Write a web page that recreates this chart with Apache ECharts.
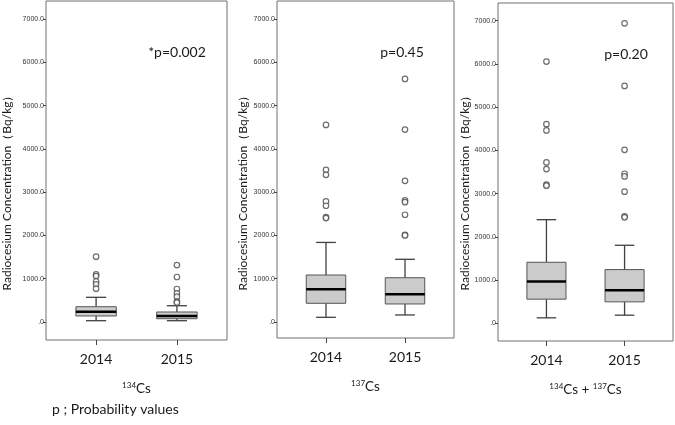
<!DOCTYPE html>
<html>
<head>
<meta charset="utf-8">
<script src="https://cdn.jsdelivr.net/npm/echarts@6/dist/echarts.min.js"></script>
<style>html,body{margin:0;padding:0;background:#fff}#c{width:675px;height:425px}</style>
</head>
<body>
<div id="c"></div>
<script>
// ---- data ----
const years = ['2014', '2015'];
const yTicks = [0, 1000, 2000, 3000, 4000, 5000, 6000, 7000];
// box = [lower whisker, Q1, median, Q3, upper whisker]
const cs134Box2014 = [30, 139, 238, 353, 570];
const cs134Box2015 = [30, 76, 139, 231, 376];
const cs134Out2014 = [1508, 1100, 1060, 935, 870, 770];
const cs134Out2015 = [1316, 1039, 762, 663, 584, 469, 446];
const cs137Box2014 = [108, 432, 755, 1085, 1838];
const cs137Box2015 = [162, 416, 640, 1023, 1448];
const cs137Out2014 = [4554, 3515, 3400, 2785, 2685, 2423, 2400];
const cs137Out2015 = [5615, 4446, 3262, 2808, 2769, 2477, 2015, 2000];
const sumBox2014 = [131, 562, 969, 1415, 2400];
const sumBox2015 = [192, 500, 769, 1246, 1808];
const sumOut2014 = [6054, 4608, 4462, 3723, 3569, 3208, 3185];
const sumOut2015 = [6938, 5492, 4015, 3462, 3400, 3046, 2477, 2454];
const pLabels = ['*p=0.002', 'p=0.45', 'p=0.20'];
const axisTitle = 'Radiocesium Concentration（Bq/kg）';
const subTitles = ['{s|134}{c|Cs}', '{s|137}{c|Cs}', '{s|134}{c|Cs + }{s|137}{c|Cs}'];
const footnote = 'p ; Probability values';

const FONT = 'Lato, "Open Sans", sans-serif';
const panels = [
  {box: [cs134Box2014, cs134Box2015], out: [cs134Out2014, cs134Out2015]},
  {box: [cs137Box2014, cs137Box2015], out: [cs137Out2014, cs137Out2015]},
  {box: [sumBox2014, sumBox2015], out: [sumOut2014, sumOut2015]}
];
const grids = [
  {left: 46, top: 1, width: 181, height: 339},
  {left: 277, top: 1, width: 177, height: 337},
  {left: 498, top: 3, width: 175, height: 338}
];
const yRanges = [[-416, 7416], [-370, 7416], [-405, 7409]];
const xRange = [-0.62, 1.62];
const catIdx = years.map((y, k) => k);

function renderBox(params, api) {
  const x = api.value(0);
  const lo = api.coord([x, api.value(1)]);
  const q1 = api.coord([x, api.value(2)]);
  const md = api.coord([x, api.value(3)]);
  const q3 = api.coord([x, api.value(4)]);
  const hi = api.coord([x, api.value(5)]);
  const unit = api.size([1, 0])[0];
  const bw = unit * 0.5, cw = bw / 2;
  const cx = lo[0];
  const ws = {stroke: '#404040', lineWidth: 1.3};
  return {type: 'group', children: [
    {type: 'line', shape: {x1: cx, y1: hi[1], x2: cx, y2: q3[1]}, style: ws},
    {type: 'line', shape: {x1: cx, y1: q1[1], x2: cx, y2: lo[1]}, style: ws},
    {type: 'line', shape: {x1: cx - cw / 2, y1: hi[1], x2: cx + cw / 2, y2: hi[1]}, style: ws},
    {type: 'line', shape: {x1: cx - cw / 2, y1: lo[1], x2: cx + cw / 2, y2: lo[1]}, style: ws},
    {type: 'rect', shape: {x: cx - bw / 2, y: q3[1], width: bw, height: q1[1] - q3[1]},
      style: {fill: '#cbcbcb', stroke: '#555', lineWidth: 1}},
    {type: 'line', shape: {x1: cx - bw / 2, y1: md[1], x2: cx + bw / 2, y2: md[1]},
      style: {stroke: '#000', lineWidth: 2.4}}
  ]};
}

const xAxes = [], yAxes = [], series = [], graphics = [];
panels.forEach((p, i) => {
  xAxes.push({
    type: 'value', gridIndex: i, min: xRange[0], max: xRange[1], position: 'bottom',
    splitLine: {show: false}, axisLine: {show: false, onZero: false},
    axisTick: {show: true, length: 5, customValues: catIdx, lineStyle: {color: '#444'}},
    axisLabel: {customValues: catIdx, formatter: v => years[Math.round(v)],
      fontSize: 14, color: '#1a1a1a', margin: 12, fontFamily: FONT},
    name: subTitles[i], nameLocation: 'middle', nameGap: 41,
    nameTextStyle: {
      color: '#1a1a1a', fontFamily: FONT,
      rich: {
        s: {fontSize: 8, lineHeight: 9, verticalAlign: 'top', fontFamily: FONT, color: '#1a1a1a'},
        c: {fontSize: 13.5, lineHeight: 15, verticalAlign: 'bottom', fontFamily: FONT, color: '#1a1a1a'}
      }
    }
  });
  yAxes.push({
    type: 'value', gridIndex: i, min: yRanges[i][0], max: yRanges[i][1], position: 'left',
    splitLine: {show: false}, axisLine: {show: false, onZero: false},
    axisTick: {show: true, length: 3, customValues: yTicks, lineStyle: {color: '#444'}},
    axisLabel: {customValues: yTicks, fontSize: 7, margin: 2, color: '#333',
      fontFamily: '"Liberation Sans Narrow", "Liberation Sans", sans-serif',
      formatter: v => v === 0 ? '.0' : v.toFixed(1)}
  });
  series.push({
    type: 'custom', xAxisIndex: i, yAxisIndex: i, renderItem: renderBox,
    encode: {x: 0, y: [1, 2, 3, 4, 5]},
    data: p.box.map((b, k) => [k].concat(b)), z: 2
  });
  const pts = [];
  p.out.forEach((arr, k) => arr.forEach(v => pts.push([k, v])));
  series.push({
    type: 'scatter', xAxisIndex: i, yAxisIndex: i, data: pts,
    symbol: 'circle', symbolSize: 5.5,
    itemStyle: {color: '#fff', borderColor: '#4a4a4a', borderWidth: 1.2}, z: 3
  });
});

const titleX = [7.5, 243.5, 465.5];
titleX.forEach((tx, i) => graphics.push({
  type: 'text', x: tx, y: 190, rotation: Math.PI / 2,
  style: {text: axisTitle, fontSize: 12, fontFamily: FONT, fill: '#1a1a1a', align: 'center', verticalAlign: 'middle'}
}));
const pPos = [[177, 52], [402, 52], [626, 54]];
pPos.forEach((pp, i) => graphics.push({
  type: 'text', x: pp[0], y: pp[1],
  style: {text: pLabels[i], fontSize: 14, fontFamily: FONT, fill: '#1a1a1a', align: 'center', verticalAlign: 'middle'}
}));
graphics.push({
  type: 'text', x: 52, y: 409,
  style: {text: footnote, fontSize: 14, fontFamily: FONT, fill: '#1a1a1a', align: 'left', verticalAlign: 'middle'}
});

const chart = echarts.init(document.getElementById('c'));
chart.setOption({
  backgroundColor: '#fff',
  animation: false,
  grid: grids.map(g => Object.assign({show: true, borderColor: '#707070', borderWidth: 1, backgroundColor: 'transparent'}, g)),
  xAxis: xAxes,
  yAxis: yAxes,
  series: series,
  graphic: graphics
});
</script>
</body>
</html>
